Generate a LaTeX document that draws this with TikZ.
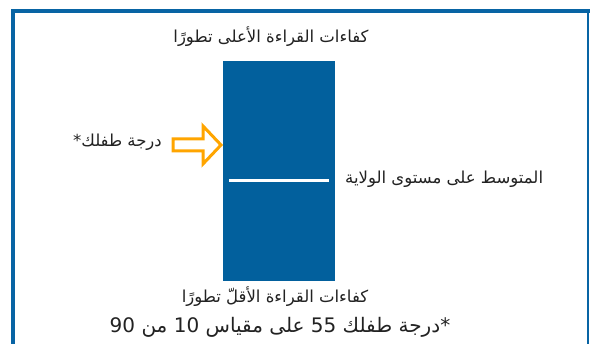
\documentclass[tikz,border=0pt]{standalone}
\usepackage{fontspec}
\newfontfamily\arabicfont[Script=Arabic]{DejaVu Sans}
\TeXXeTstate=1
\definecolor{barblue}{RGB}{2,96,157}
\definecolor{frameblue}{RGB}{8,100,164}
\definecolor{arrorange}{RGB}{255,165,0}
\definecolor{txt}{RGB}{34,34,34}
\tikzset{
  lbl/.style={inner sep=0pt, text=txt, font=\arabicfont\fontsize{16.5}{19}\selectfont},
  bigl/.style={inner sep=0pt, text=txt, font=\arabicfont\fontsize{20}{23}\selectfont},
  barbox/.style={fill=barblue, draw=none, minimum width=112pt, minimum height=220pt, inner sep=0pt},
  arrowst/.style={draw=arrorange, fill=white, line width=3pt, line join=miter},
  avgline/.style={draw=white, line width=3pt},
  framest/.style={draw=frameblue, line width=4pt}
}
\begin{document}
\begin{tikzpicture}[x=1pt,y=-1pt]
\useasboundingbox (0,0) rectangle (590,344);
\fill[white] (0,0) rectangle (590,344);
% frame
\draw[framest] (13,346) -- (13,11) -- (590,11);
\draw[draw=frameblue, line width=2.5pt] (588,11) -- (588,346);
% bar
\node[barbox] (bar) at (279,171) {};
\coordinate (avgL) at (229,181);
\coordinate (avgR) at (329,181);
\draw[avgline] (avgL) -- (avgR);
% arrow
\draw[arrowst] (173,139) -- (203,139) -- (203,126) -- (221,145) -- (203,164) -- (203,151) -- (173,151) -- cycle;
% labels
\node[lbl] (top) at (271,37) {\beginR كفاءات القراءة الأعلى تطورًا\endR};
\node[lbl, anchor=east] (child) at (162,142) {\beginR درجة طفلك*\endR};
\node[lbl, anchor=west] (avg) at (345,179) {\beginR المتوسط على مستوى الولاية\endR};
\node[lbl] (bottom) at (275,297) {\beginR كفاءات القراءة الأقلّ تطورًا\endR};
\node[bigl] (note) at (280,327) {\beginR *درجة طفلك \beginL 55\endL{} على مقياس \beginL 10\endL{} من \beginL 90\endL\endR};
\end{tikzpicture}
\end{document}
